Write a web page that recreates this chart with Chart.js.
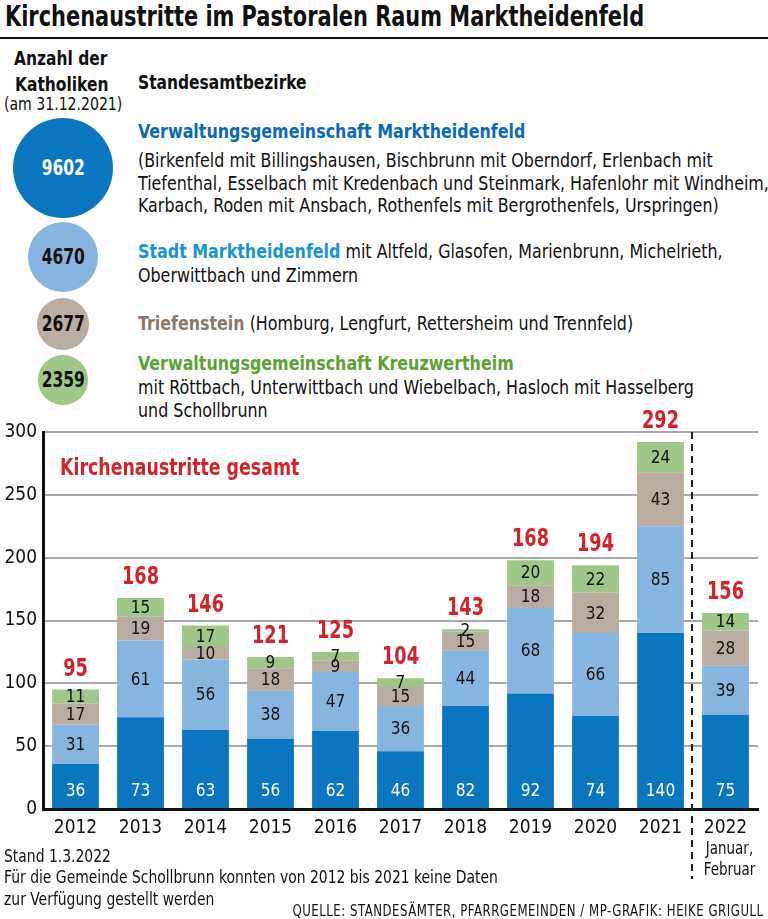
<!DOCTYPE html>
<html lang="de">
<head>
<meta charset="utf-8">
<title>Kirchenaustritte im Pastoralen Raum Marktheidenfeld</title>
<script src="https://cdn.jsdelivr.net/npm/chart.js@4.4.1/dist/chart.umd.min.js"></script>
<style>
  html, body { margin: 0; padding: 0; background: #fff; }
  body {
    width: 768px; height: 919px; position: relative; overflow: hidden;
    font-family: "DejaVu Sans Condensed", "Liberation Sans", Roboto, sans-serif;
    color: #111;
  }
  .abs { position: absolute; white-space: nowrap; transform-origin: 0 0; }
  #title { left: 5px; top: 3px; font-size: 28px; line-height: 28px; font-weight: bold; transform: scaleX(0.83); }
  #rule { position: absolute; left: 0; top: 37px; width: 768px; height: 2px; background: #111; }
  .head { font-size: 20px; line-height: 20px; font-weight: bold; }
  .body { font-size: 19px; line-height: 23px; transform: scaleX(0.93); }
  .lbl { font-weight: bold; }
  .circle {
    position: absolute; border-radius: 50%;
    display: flex; align-items: center; justify-content: center;
    font-size: 21px; font-weight: bold;
  }
  .circle span { display: inline-block; transform: scaleX(0.82); }
  #chartBox { position: absolute; left: 0; top: 400px; width: 768px; height: 490px; }
  #gesamt { left: 60px; top: 456px; font-size: 23px; line-height: 23px; font-weight: bold; color: #d2232a; transform: scaleX(0.84); }
  .foot { font-size: 18px; line-height: 18px; transform: scaleX(0.86); }
  #quelle { right: 4px; top: 904px; font-size: 15px; line-height: 15px; letter-spacing: 0.6px; transform: scaleX(0.87); transform-origin: 100% 0; }
</style>
</head>
<body>
<div id="title" class="abs">Kirchenaustritte im Pastoralen Raum Marktheidenfeld</div>
<div id="rule"></div>

<div class="abs head" style="left:14px; top:48px; transform:scaleX(0.86);">Anzahl der</div>
<div class="abs head" style="left:15px; top:74px; transform:scaleX(0.86);">Katholiken</div>
<div class="abs" style="left:4px; top:96px; font-size:17px; line-height:17px; transform:scaleX(0.92);">(am 31.12.2021)</div>
<div class="abs head" style="left:138px; top:72px; transform:scaleX(0.86);">Standesamtbezirke</div>

<div id="circles"></div>

<div class="abs body" style="left:138px; top:120px;">
  <span class="lbl" style="color:#0a6ab8;">Verwaltungsgemeinschaft Marktheidenfeld</span>
</div>
<div class="abs body" style="left:138px; top:149px; line-height:22.5px;">
  (Birkenfeld mit Billingshausen, Bischbrunn mit Oberndorf, Erlenbach mit<br>
  Tiefenthal, Esselbach mit Kredenbach und Steinmark, Hafenlohr mit Windheim,<br>
  Karbach, Roden mit Ansbach, Rothenfels mit Bergrothenfels, Urspringen)
</div>
<div class="abs body" style="left:138px; top:239px; line-height:24px;">
  <span class="lbl" style="color:#1a93d4;">Stadt Marktheidenfeld</span> mit Altfeld, Glasofen, Marienbrunn, Michelrieth,<br>
  Oberwittbach und Zimmern
</div>
<div class="abs body" style="left:138px; top:312px;">
  <span class="lbl" style="color:#8a7a6c;">Triefenstein</span> (Homburg, Lengfurt, Rettersheim und Trennfeld)
</div>
<div class="abs body" style="left:138px; top:352px; line-height:23.5px;">
  <span class="lbl" style="color:#5aa238;">Verwaltungsgemeinschaft Kreuzwertheim</span><br>
  mit Röttbach, Unterwittbach und Wiebelbach, Hasloch mit Hasselberg<br>
  und Schollbrunn
</div>

<div id="chartBox"><canvas id="chart"></canvas></div>
<div id="gesamt" class="abs">Kirchenaustritte gesamt</div>

<div class="abs foot" style="left:4px; top:847px;">Stand 1.3.2022</div>
<div class="abs foot" style="left:4px; top:868px;">Für die Gemeinde Schollbrunn konnten von 2012 bis 2021 keine Daten</div>
<div class="abs foot" style="left:4px; top:890px;">zur Verfügung gestellt werden</div>
<div id="quelle" class="abs">QUELLE: STANDESÄMTER, PFARRGEMEINDEN / MP-GRAFIK: HEIKE GRIGULL</div>

<script>
// --- data ---
const years = ['2012', '2013', '2014', '2015', '2016', '2017', '2018', '2019', '2020', '2021', '2022'];
const vgMarktheidenfeld = [36, 73, 63, 56, 62, 46, 82, 92, 74, 140, 75];
const stadtMarktheidenfeld = [31, 61, 56, 38, 47, 36, 44, 68, 66, 85, 39];
const triefenstein = [17, 19, 10, 18, 9, 15, 15, 18, 32, 43, 28];
const vgKreuzwertheim = [11, 15, 17, 9, 7, 7, 2, 20, 22, 24, 14];
// totals as printed in the graphic
const totalLabels = ['95', '168', '146', '121', '125', '104', '143', '168', '194', '292', '156'];
const yTicks = [0, 50, 100, 150, 200, 250, 300];

const katholikenLabels = ['9602', '4670', '2677', '2359'];
const katholiken = [9602, 4670, 2677, 2359];

const cDark = '#0a76bf', cLight = '#86b6df', cTaupe = '#b9ada2', cGreen = '#a0c787';
const red = '#d2232a';
const FONT = '"DejaVu Sans Condensed", "Liberation Sans", Roboto, sans-serif';

// bubbles, area scaled on the biggest one
const circleColors = [cDark, cLight, cTaupe, cGreen];
const circleTextColors = ['#fff', '#111', '#111', '#111'];
const circleY = [168, 257, 324, 380];
const circlesEl = document.getElementById('circles');
katholiken.forEach((v, i) => {
  const r = 50 * Math.sqrt(v / katholiken[0]);
  const d = document.createElement('div');
  d.className = 'circle';
  d.style.left = (63 - r) + 'px';
  d.style.top = (circleY[i] - r) + 'px';
  d.style.width = d.style.height = (2 * r) + 'px';
  d.style.background = circleColors[i];
  d.style.color = circleTextColors[i];
  const s = document.createElement('span');
  s.textContent = katholikenLabels[i];
  d.appendChild(s);
  circlesEl.appendChild(d);
});

// narrow text helper for the canvas
function condText(ctx, text, x, y, sx) {
  ctx.save();
  ctx.translate(x, y);
  ctx.scale(sx, 1);
  ctx.fillText(text, 0, 0);
  ctx.restore();
}

const labelPlugin = {
  id: 'labelPlugin',
  afterDatasetsDraw(chart) {
    const ctx = chart.ctx;
    const ys = chart.scales.y;
    const xs = chart.scales.x;
    ctx.save();
    ctx.textAlign = 'center';
    ctx.textBaseline = 'middle';
    ctx.font = '18px ' + FONT;
    chart.data.datasets.forEach((ds, di) => {
      chart.getDatasetMeta(di).data.forEach((bar, i) => {
        let cy = (bar.y + bar.base) / 2;
        ctx.fillStyle = '#111';
        if (di === 0) {
          cy = ys.getPixelForValue(0) - 19;
          ctx.fillStyle = '#fff';
        }
        condText(ctx, String(ds.data[i]), bar.x, cy + 1, 0.95);
      });
    });

    // totals above the stacks
    ctx.fillStyle = red;
    ctx.font = 'bold 24px ' + FONT;
    ctx.textBaseline = 'alphabetic';
    chart.getDatasetMeta(3).data.forEach((bar, i) => {
      condText(ctx, totalLabels[i], bar.x, bar.y - 14, 0.82);
    });

    // dashed divider before 2022
    const dx = (xs.getPixelForValue(9) + xs.getPixelForValue(10)) / 2 - 1;
    ctx.strokeStyle = '#222';
    ctx.lineWidth = 2;
    ctx.setLineDash([7, 5]);
    ctx.beginPath();
    ctx.moveTo(dx, chart.chartArea.top);
    ctx.lineTo(dx, chart.chartArea.bottom + 70);
    ctx.stroke();
    ctx.setLineDash([]);

    // subtitle under 2022
    ctx.fillStyle = '#111';
    ctx.font = '17px ' + FONT;
    ctx.textBaseline = 'middle';
    const x22 = xs.getPixelForValue(10);
    condText(ctx, 'Januar,', x22 + 4, chart.chartArea.bottom + 41, 0.88);
    condText(ctx, 'Februar', x22 + 4, chart.chartArea.bottom + 62, 0.88);
    ctx.restore();
  }
};

const ctx = document.getElementById('chart').getContext('2d');
const chart = new Chart(ctx, {
  type: 'bar',
  data: {
    labels: years,
    datasets: [
      { label: 'Verwaltungsgemeinschaft Marktheidenfeld', data: vgMarktheidenfeld, backgroundColor: cDark },
      { label: 'Stadt Marktheidenfeld', data: stadtMarktheidenfeld, backgroundColor: cLight },
      { label: 'Triefenstein', data: triefenstein, backgroundColor: cTaupe },
      { label: 'Verwaltungsgemeinschaft Kreuzwertheim', data: vgKreuzwertheim, backgroundColor: cGreen }
    ]
  },
  options: {
    responsive: true,
    maintainAspectRatio: false,
    animation: false,
    layout: { padding: { top: 32, right: 10, left: 0, bottom: 0 } },
    datasets: { bar: { barPercentage: 0.72, categoryPercentage: 1 } },
    plugins: { legend: { display: false }, tooltip: { enabled: false } },
    scales: {
      x: {
        stacked: true,
        grid: { display: false, drawTicks: false },
        border: { color: '#111', width: 3 },
        ticks: { color: '#111', font: { family: FONT, size: 19 }, padding: 8, maxRotation: 0 },
        afterFit(scale) { scale.height = 81; }
      },
      y: {
        stacked: true,
        min: 0,
        max: 300,
        afterBuildTicks(scale) { scale.ticks = yTicks.map(v => ({ value: v })); },
        grid: { color: '#a8a8a8', lineWidth: 2, drawTicks: false },
        border: { color: '#111', width: 3 },
        ticks: { color: '#111', font: { family: FONT, size: 19 }, padding: 6 },
        afterFit(scale) { scale.width = 43; }
      }
    }
  },
  plugins: [labelPlugin]
});
</script>
</body>
</html>
